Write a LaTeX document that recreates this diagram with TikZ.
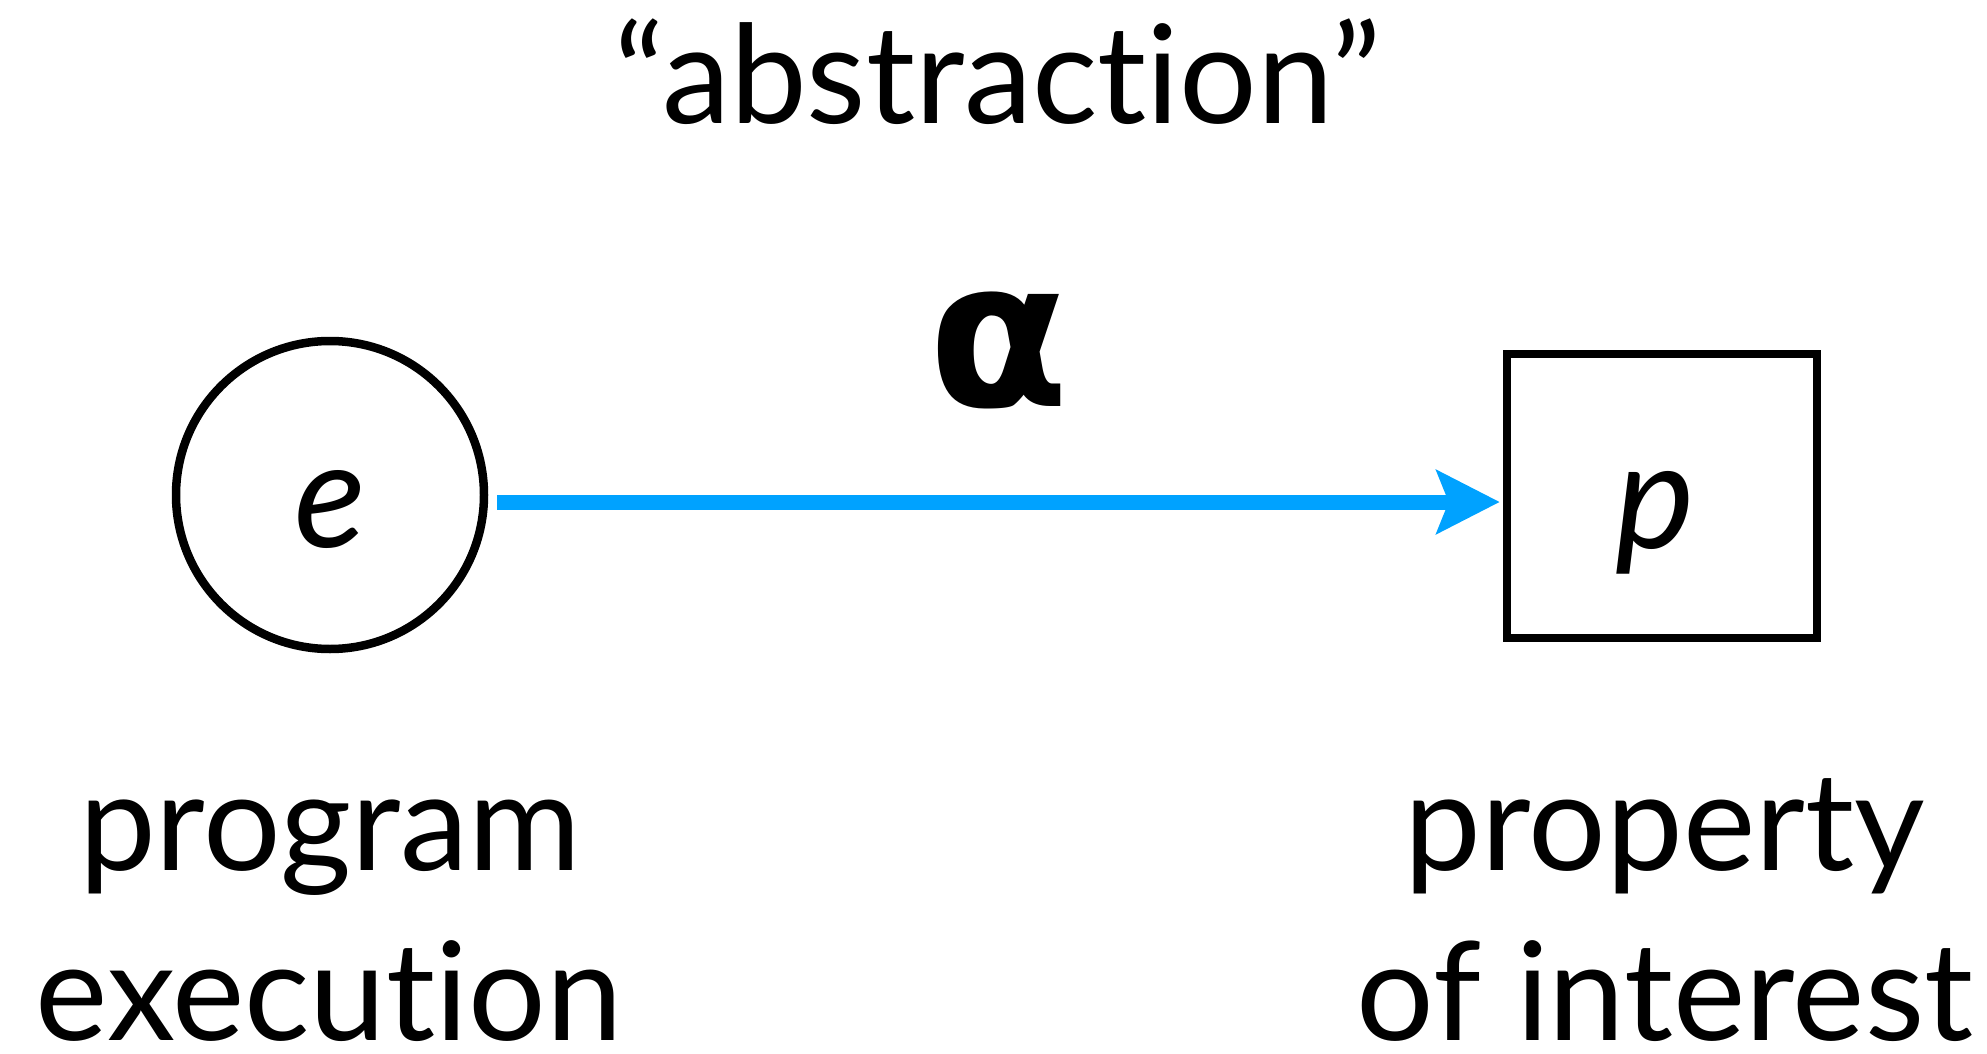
\documentclass[tikz,border=0pt]{standalone}
\usepackage{fontspec}
\setmainfont{Lato}[Ligatures={NoCommon}]
\newfontfamily\alphafont{DejaVu Sans}
\usetikzlibrary{arrows.meta}
\definecolor{arrowblue}{RGB}{0,162,255}
\begin{document}
\begin{tikzpicture}[x=1pt,y=-1pt]
\useasboundingbox (0,0) rectangle (1987,1054);
\tikzset{
  blk/.style={draw=black, line width=8.5pt, inner sep=0pt},
  lbl/.style={font=\fontsize{137}{160}\selectfont, anchor=base, inner sep=0pt},
  innerlbl/.style={font=\fontsize{150}{160}\selectfont\itshape, anchor=base, inner sep=0pt},
  arr/.style={draw=arrowblue, line width=15pt, -{Stealth[length=63pt,width=63pt,inset=12pt]}}
}
\node[blk, circle, minimum size=308pt] (E) at (330,495) {};
\node[blk, rectangle, minimum width=310pt, minimum height=284pt] (P) at (1662,496) {};
\node[innerlbl] (e) at (330,547) {e};
\node[innerlbl] (p) at (1655,548) {p};
\draw[arr] ([xshift=9pt,yshift=-7pt]E.east) -- ([xshift=-3pt,yshift=-6pt]P.west);
\node[font=\fontsize{205}{215}\selectfont\alphafont\bfseries, anchor=base, inner sep=0pt] (alpha) at (999,406) {α};
\node[lbl] (abs) at (998,124) {“abstraction”};
\node[lbl] (l1) at (330,870) {program};
\node[lbl] (l2) at (329,1040) {execution};
\node[lbl] (r1) at (1665,870) {property};
\node[lbl] (r2) at (1665,1040) {of interest};
\end{tikzpicture}
\end{document}
